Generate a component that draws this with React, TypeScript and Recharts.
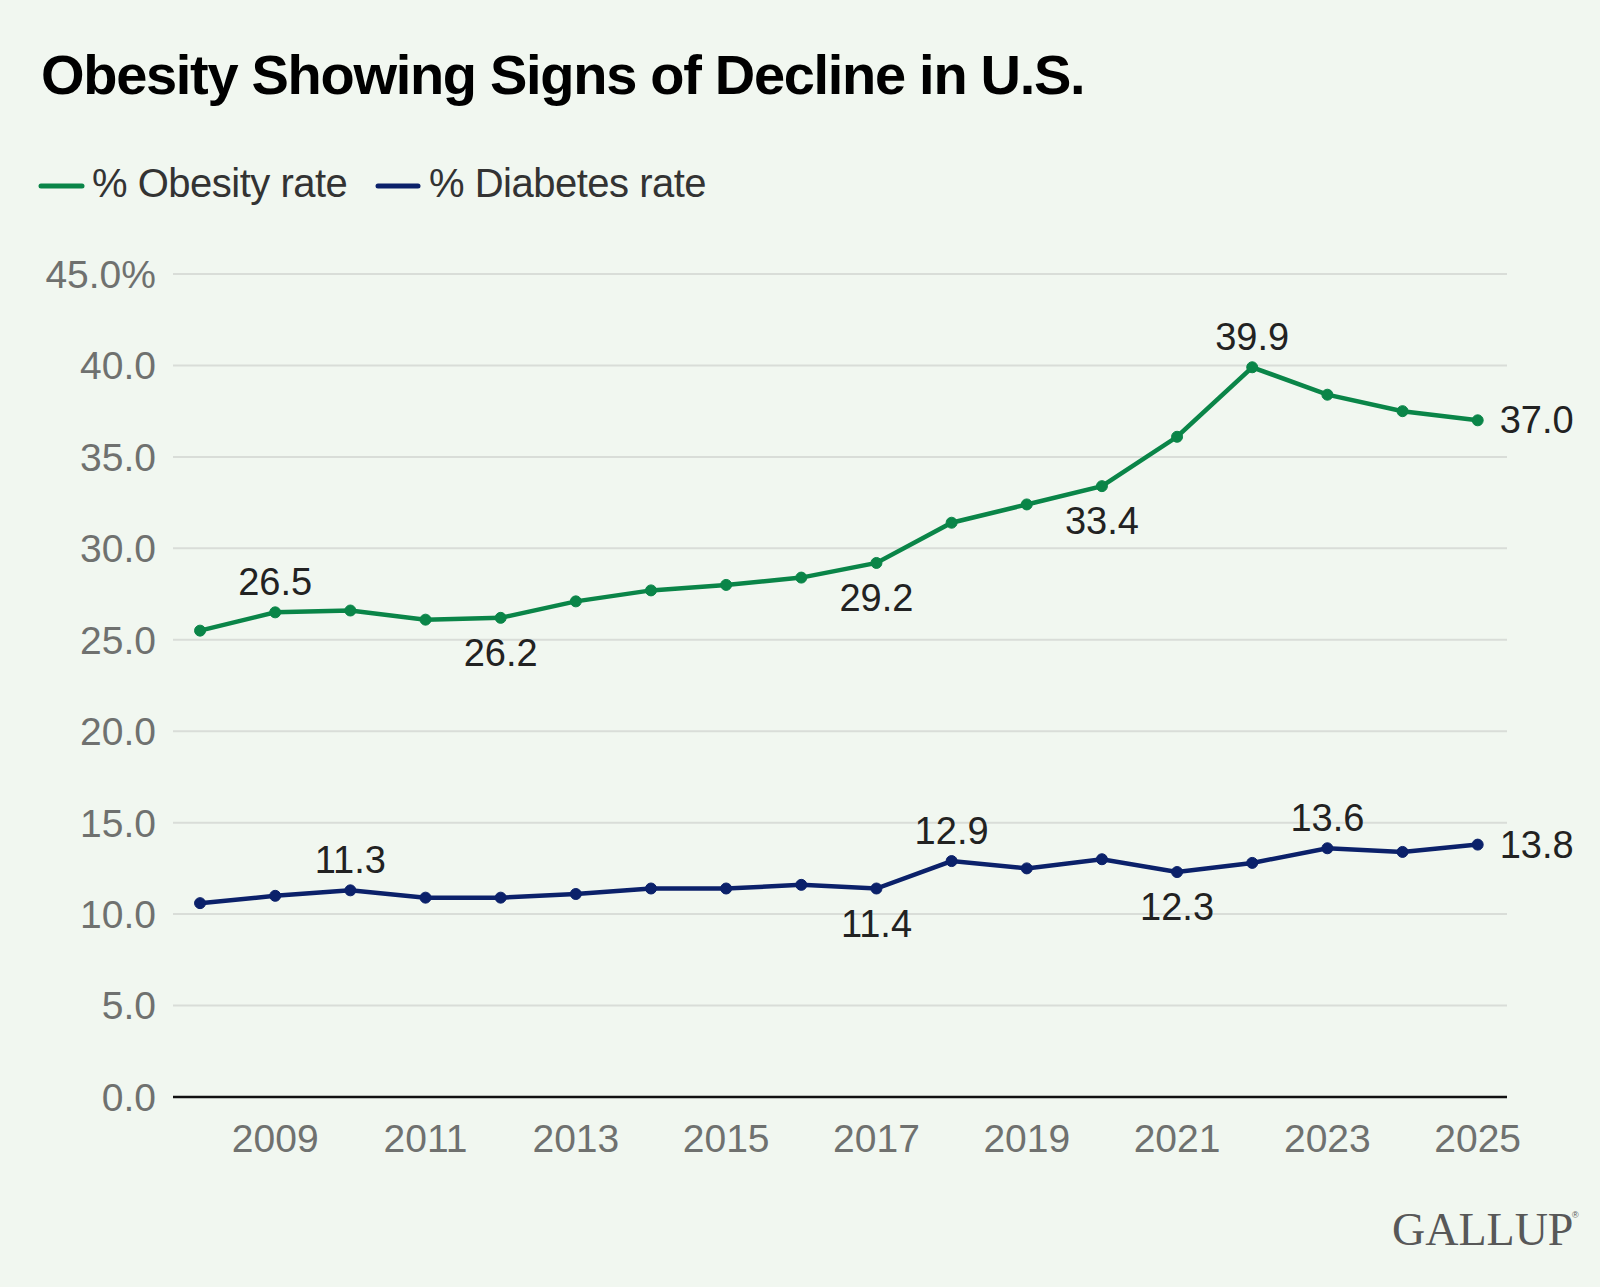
import React from "react";
import { CartesianGrid, Line, LineChart, XAxis, YAxis } from "recharts";

const years = [
  2008, 2009, 2010, 2011, 2012, 2013, 2014, 2015, 2016, 2017, 2018, 2019,
  2020, 2021, 2022, 2023, 2024, 2025,
];
const obesity = [
  25.5, 26.5, 26.6, 26.1, 26.2, 27.1, 27.7, 28.0, 28.4, 29.2, 31.4, 32.4,
  33.4, 36.1, 39.9, 38.4, 37.5, 37.0,
];
const diabetes = [
  10.6, 11.0, 11.3, 10.9, 10.9, 11.1, 11.4, 11.4, 11.6, 11.4, 12.9, 12.5,
  13.0, 12.3, 12.8, 13.6, 13.4, 13.8,
];
const yTicks = [0, 5, 10, 15, 20, 25, 30, 35, 40, 45];
const xTicks = [2009, 2011, 2013, 2015, 2017, 2019, 2021, 2023, 2025];

// which points carry a value label, and where it sits
type Place = "above" | "below" | "right";
const obesityNotes: Record<number, Place> = {
  2009: "above",
  2012: "below",
  2017: "below",
  2020: "below",
  2022: "above",
  2025: "right",
};
const diabetesNotes: Record<number, Place> = {
  2010: "above",
  2017: "below",
  2018: "above",
  2021: "below",
  2023: "above",
  2025: "right",
};

const GREEN = "#0a8548";
const NAVY = "#0b216a";
const BG = "#f1f7f0";
const FONT = "'Liberation Sans', Arial, sans-serif";

const data = years.map((year, i) => ({
  year,
  obesity: obesity[i],
  diabetes: diabetes[i],
}));

function makeLabel(notes: Record<number, Place>) {
  return (props: any) => {
    const { x, y, value, index } = props;
    const place = notes[years[index]];
    if (!place) return null;
    let tx = x;
    let ty = y + 13;
    let anchor: "middle" | "start" = "middle";
    if (place === "above") ty = y - 17;
    if (place === "below") ty = y + 48;
    if (place === "right") {
      tx = x + 22;
      anchor = "start";
    }
    return (
      <text
        key={`lbl-${index}`}
        x={tx}
        y={ty}
        textAnchor={anchor}
        fontSize={38}
        fontFamily={FONT}
        fill="#222"
      >
        {Number(value).toFixed(1)}
      </text>
    );
  };
}

const tickStyle = { fontSize: 39, fill: "#6f716f", fontFamily: FONT };

export default function App() {
  return (
    <div
      style={{
        position: "absolute",
        left: 0,
        top: 0,
        width: 1600,
        height: 1287,
        background: BG,
        overflow: "hidden",
      }}
    >
      <LineChart
        width={1600}
        height={1287}
        data={data}
        margin={{ top: 274, right: 93, bottom: 130, left: 0 }}
      >
        <CartesianGrid vertical={false} stroke="#d9ddd8" strokeWidth={2} />
        <XAxis
          dataKey="year"
          type="number"
          domain={[2007.64, 2025.39]}
          ticks={xTicks}
          height={60}
          tick={tickStyle}
          tickLine={false}
          tickSize={0}
          tickMargin={27}
          axisLine={{ stroke: "#111", strokeWidth: 2.5 }}
        />
        <YAxis
          domain={[0, 45]}
          ticks={yTicks}
          width={173}
          tick={tickStyle}
          tickLine={false}
          tickSize={0}
          tickMargin={17}
          axisLine={false}
          tickFormatter={(v: number) => (v === 45 ? "45.0%" : v.toFixed(1))}
        />
        <Line
          dataKey="obesity"
          stroke={GREEN}
          strokeWidth={4.5}
          dot={{ r: 5.5, fill: GREEN, stroke: GREEN, strokeWidth: 1 }}
          activeDot={false}
          isAnimationActive={false}
          label={makeLabel(obesityNotes)}
        />
        <Line
          dataKey="diabetes"
          stroke={NAVY}
          strokeWidth={4.5}
          dot={{ r: 5.5, fill: NAVY, stroke: NAVY, strokeWidth: 1 }}
          activeDot={false}
          isAnimationActive={false}
          label={makeLabel(diabetesNotes)}
        />
      </LineChart>
      <svg
        width={1600}
        height={1287}
        style={{ position: "absolute", left: 0, top: 0, pointerEvents: "none" }}
      >
        <text
          x={41}
          y={94}
          fontSize={56}
          fontWeight={700}
          letterSpacing={-1.3}
          fontFamily={FONT}
          fill="#000"
        >
          Obesity Showing Signs of Decline in U.S.
        </text>
        <line x1={41} x2={82} y1={186} y2={186} stroke={GREEN} strokeWidth={5} strokeLinecap="round" />
        <text x={92} y={197} fontSize={40} letterSpacing={-0.5} fontFamily={FONT} fill="#333">
          % Obesity rate
        </text>
        <line x1={378} x2={418} y1={186} y2={186} stroke={NAVY} strokeWidth={5} strokeLinecap="round" />
        <text x={429} y={197} fontSize={40} letterSpacing={-0.5} fontFamily={FONT} fill="#333">
          % Diabetes rate
        </text>
        <text
          x={1392}
          y={1245}
          fontSize={46}
          fontFamily="'Liberation Serif', 'Times New Roman', serif"
          fill="#585858"
        >
          GALLUP
        </text>
        <text x={1572} y={1218} fontSize={9} fontFamily={FONT} fill="#585858">
          ®
        </text>
      </svg>
    </div>
  );
}
